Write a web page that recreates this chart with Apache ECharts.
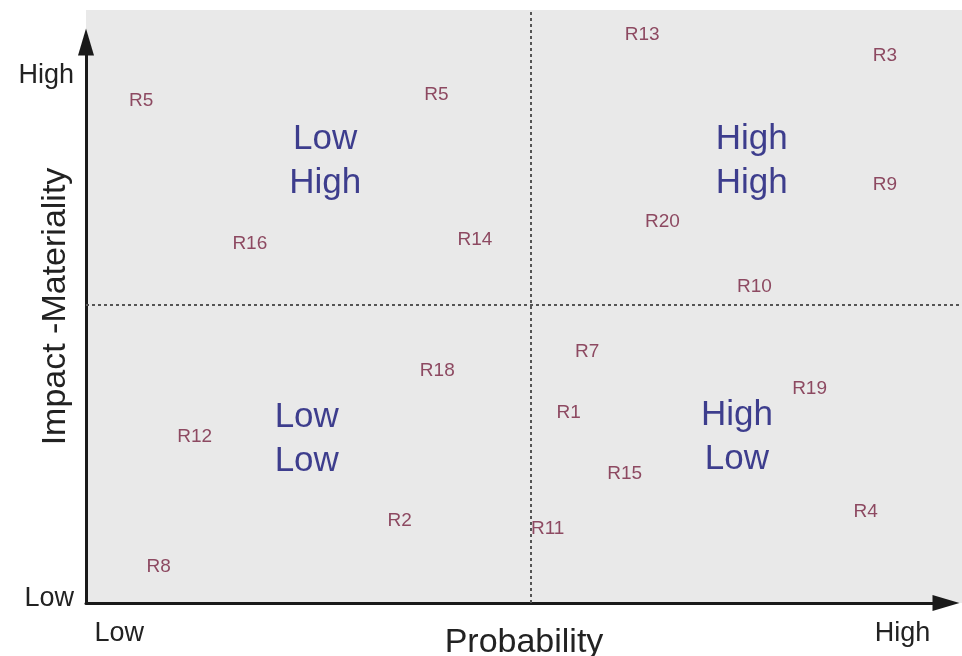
<!DOCTYPE html>
<html>
<head>
<meta charset="utf-8">
<script src="https://cdn.jsdelivr.net/npm/echarts@6/dist/echarts.min.js"></script>
<style>
html,body{margin:0;padding:0;background:#fff;}
#c{width:962px;height:656px;}
</style>
</head>
<body>
<div id="c"></div>
<script>
// Risk items: name, probability (x), impact (y)
var riskNames = ['R5','R5','R13','R3','R9','R20','R10','R16','R14','R7','R18','R1','R19','R12','R15','R4','R2','R11','R8'];
var riskProb  = [6.3, 40.0, 63.5, 91.2, 91.2, 65.8, 76.3, 18.7, 44.4, 57.2, 40.1, 55.1, 82.6, 12.4, 61.5, 89.0, 35.8, 52.7, 8.3];
var riskImpact= [85.0, 86.0, 96.1, 92.7, 70.8, 64.6, 53.6, 61.0, 61.6, 42.7, 39.5, 32.5, 36.4, 28.3, 22.1, 15.7, 14.2, 12.8, 6.4];

// Quadrant captions
var quadNames = ['Low\nHigh','High\nHigh','Low\nLow','High\nLow'];
var quadProb  = [27.3, 76.0, 25.2, 74.3];
var quadImpact= [74.9, 74.9, 28.1, 28.4];

// Dividers
var probMid = 50.8;
var impactMid = 50.25;

// Tick labels
var xTickValues = [3.8, 93.2];
var xTickLabels = ['Low','High'];
var yTickValues = [0.8, 89.0];
var yTickLabels = ['Low','High'];

var FONT = '"Liberation Sans", Arial, sans-serif';

var riskData = riskNames.map(function(n,i){ return {name:n, value:[riskProb[i], riskImpact[i]]}; });
var quadData = quadNames.map(function(n,i){ return {name:n, value:[quadProb[i], quadImpact[i]]}; });

function lookup(vals, labels){
  return function(v){
    for (var i=0;i<vals.length;i++){ if (Math.abs(vals[i]-v)<1e-6) return labels[i]; }
    return '';
  };
}

var chart = echarts.init(document.getElementById('c'), null, {renderer:'canvas'});
chart.setOption({
  backgroundColor:'#ffffff',
  animation:false,
  grid:[
    {left:86, right:0, top:10, bottom:53, show:true, backgroundColor:'#e9e9e9', borderWidth:0, containLabel:false, outerBoundsMode:'none'},
    {left:86, right:16, top:42, bottom:53, show:false, containLabel:false, outerBoundsMode:'none'}
  ],
  xAxis:[
    {gridIndex:0, type:'value', min:0, max:100,
     axisLine:{show:false}, axisTick:{show:false}, splitLine:{show:false},
     axisLabel:{show:true, customValues:xTickValues, formatter:lookup(xTickValues,xTickLabels),
       fontSize:27, color:'#222', fontFamily:FONT, margin:17},
     name:'Probability', nameLocation:'middle', nameGap:23, nameMoveOverlap:false,
     nameTextStyle:{fontSize:34, color:'#222', fontFamily:FONT}
    },
    {gridIndex:1, type:'value', min:0, max:100,
     axisLine:{show:true, symbol:['none','triangle'], symbolSize:[16,27], lineStyle:{color:'#1a1a1a', width:3}},
     axisTick:{show:false}, axisLabel:{show:false}, splitLine:{show:false}}
  ],
  yAxis:[
    {gridIndex:0, type:'value', min:0, max:100,
     axisLine:{show:false}, axisTick:{show:false}, splitLine:{show:false},
     axisLabel:{show:true, customValues:yTickValues, formatter:lookup(yTickValues,yTickLabels),
       fontSize:27, color:'#222', fontFamily:FONT, margin:12},
     name:'Impact -Materiality', nameLocation:'middle', nameGap:13, nameMoveOverlap:false,
     nameTextStyle:{fontSize:34, color:'#222', fontFamily:FONT}
    },
    {gridIndex:1, type:'value', min:0, max:100,
     axisLine:{show:true, symbol:['none','triangle'], symbolSize:[16,27], lineStyle:{color:'#1a1a1a', width:3}},
     axisTick:{show:false}, axisLabel:{show:false}, splitLine:{show:false}}
  ],
  series:[
    {type:'scatter', xAxisIndex:0, yAxisIndex:0, data:riskData, symbolSize:0,
     label:{show:true, position:'inside', offset:[0,2], formatter:'{b}', fontSize:19, color:'#76203f', fontFamily:FONT},
     markLine:{silent:true, symbol:['none','none'], label:{show:false},
       lineStyle:{type:[3,3], color:'#555', width:2},
       data:[{xAxis:probMid},{yAxis:impactMid}]}
    },
    {type:'scatter', xAxisIndex:0, yAxisIndex:0, data:quadData, symbolSize:0,
     label:{show:true, position:'inside', offset:[0,3], formatter:'{b}', fontSize:35, lineHeight:44, color:'#121276', fontFamily:FONT}
    }
  ]
});
</script>
</body>
</html>
